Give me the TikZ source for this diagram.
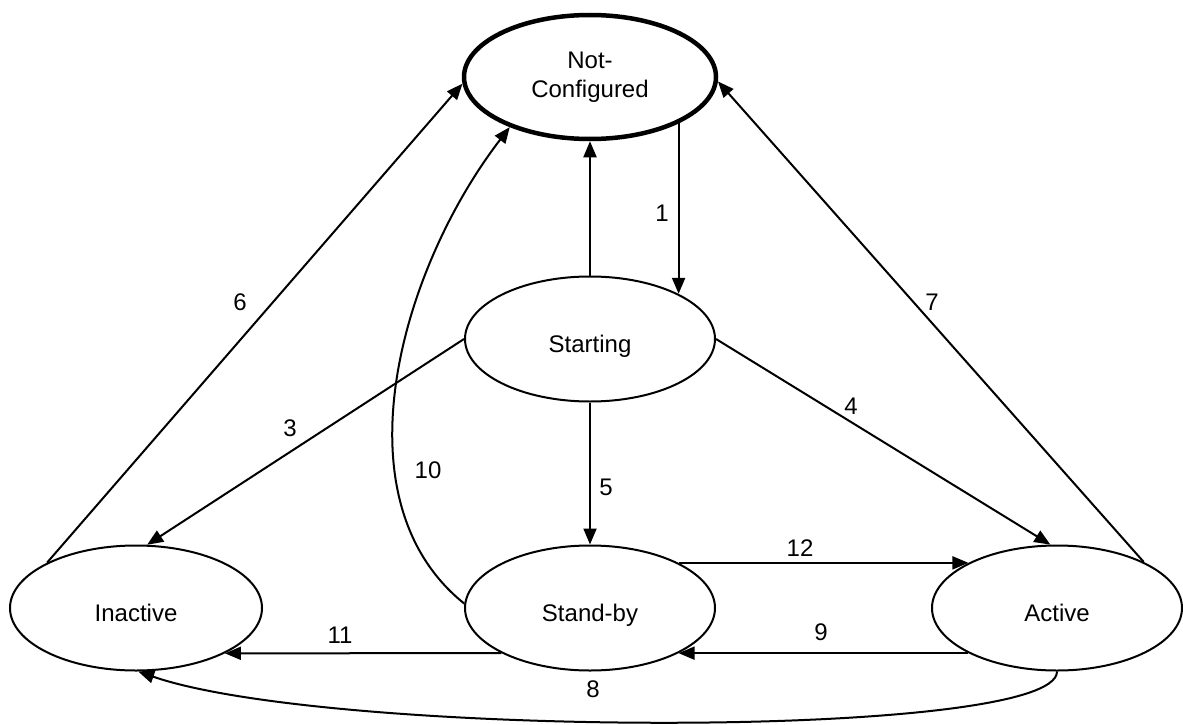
\documentclass[tikz,border=0pt]{standalone}
\usepackage{fontspec}
\setmainfont{Liberation Sans}
\usetikzlibrary{shapes.geometric,arrows.meta}
\begin{document}
\begin{tikzpicture}[x=1pt,y=-1pt,
  state/.style={ellipse,draw,line width=2pt,minimum width=250pt,minimum height=125pt,inner sep=0pt,font=\fontsize{24}{29}\selectfont},
  lowtext/.style={text height=26pt,text depth=0pt},
  arr/.style={line width=2pt,-{Triangle[length=16pt,width=13pt]}},
  lbl/.style={font=\fontsize{24}{27}\selectfont,inner sep=0pt}]
\useasboundingbox (0,0) rectangle (1183,725);
\node[state,line width=4.5pt,minimum width=252pt,minimum height=124pt,align=center] (nc) at (590,77) {Not-\\Configured};
\node[state,lowtext] (st) at (590,339) {Starting};
\node[state,lowtext,minimum width=252pt] (in) at (136,608) {Inactive};
\node[state,lowtext] (sb) at (590,608) {Stand-by};
\node[state,lowtext] (ac) at (1057,608) {Active};
% edges
\draw[arr] (st.north) -- (nc.south);
\draw[arr] (st.27 |- nc.-26) -- node[lbl,pos=0.53,left=9pt]{1} (st.27);
\draw[arr] (st.west) -- (in.80);
\draw[arr] (st.east) -- (ac.96);
\draw[arr] (st.south) -- (sb.north);
\draw[arr] (in.153) -- (nc.-177);
\draw[arr] (ac.28) -- (nc.-2);
\draw[arr] (sb.178) .. controls (335,500) and (400,270) .. (nc.-148);
\draw[arr] (sb.-153) -- (in.-27);
\draw[arr] (ac.-153) -- (sb.-27);
\draw[arr] (sb.27) -- (ac.153);
\draw[arr] (ac.-90) .. controls (1057,740) and (330,738) .. (in.-88);
% labels
\node[lbl] (l6) at (240,302) {6};
\node[lbl] (l7) at (932,302) {7};
\node[lbl] (l3) at (290,428) {3};
\node[lbl] (l4) at (851,406) {4};
\node[lbl] (l5) at (606,487) {5};
\node[lbl] (l10) at (428,470) {10};
\node[lbl] (l11) at (340,635) {11};
\node[lbl] (l12) at (800,548) {12};
\node[lbl] (l9) at (821,632) {9};
\node[lbl] (l8) at (593,689) {8};
\end{tikzpicture}
\end{document}
